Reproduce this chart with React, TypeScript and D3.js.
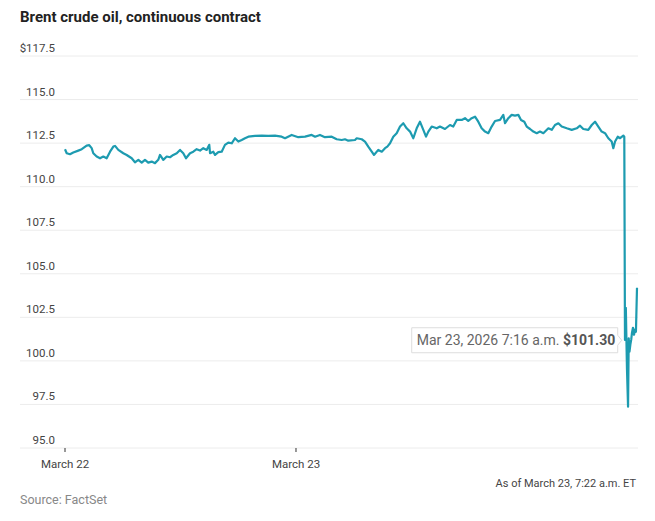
import { line, scaleLinear, curveLinear } from 'd3';

// trading hours since the March 22 open, and Brent front-month price in dollars
const hours = [
  0, 0.18, 0.52, 0.86, 1.38, 1.74, 2.25, 2.52, 2.77, 2.94, 3.29, 3.64, 3.98, 4.33, 4.68, 5.02, 5.2, 5.54,
  6.06, 6.41, 6.93, 7.27, 7.62, 7.97, 8.31, 8.65, 9.01, 9.35, 9.69, 9.87, 10.21, 10.57, 10.91, 11.25, 11.61,
  11.95, 12.29, 12.57, 12.99, 13.33, 13.68, 14.03, 14.37, 14.72, 14.99,
  15.07, 15.41, 15.59, 15.93, 16.28, 16.62, 16.97, 17.32, 17.66, 18.01, 18.36, 18.7, 19.05, 19.74, 20.44,
  21.12, 21.82, 22.51, 22.86, 23.55, 24.24, 24.94, 25.63, 25.98, 26.49, 27.01, 27.71, 28.23, 28.75, 29.09,
  29.43, 30.13,
  30.31, 30.83, 31.17, 31.51, 31.87, 32.1, 32.55, 32.91, 33.25, 33.49, 33.77, 34.11, 34.46, 34.81, 35.15,
  35.5, 35.85, 36.19, 36.54, 36.88, 37.23, 37.51, 37.75, 38.1, 38.62, 38.96, 39.48, 40.0, 40.34, 40.7,
  41.22, 41.56, 41.9, 42.25, 42.6, 42.94, 43.29, 43.64, 43.98, 44.33, 44.68, 45.2,
  45.54, 45.72, 46.06, 46.41, 46.75, 47.1, 47.38, 47.72, 47.97, 48.32, 48.66, 49.01, 49.35, 49.7, 50.22,
  50.57, 50.91, 51.26, 51.61, 52.13, 52.65, 53.17, 53.51, 53.85, 54.37, 54.73, 55.07, 55.41, 55.76, 56.11,
  56.45, 56.8, 56.97, 57.15, 57.43, 57.67, 58.01, 58.11,
  58.18, 58.27, 58.39, 58.5, 58.57, 58.65, 58.74, 58.83, 58.91, 59.01, 59.12, 59.22, 59.32, 59.43,
];

const prices = [
  112.15, 111.92, 111.86, 111.96, 112.07, 112.15, 112.36, 112.38, 112.21, 111.92, 111.73, 111.63, 111.73,
  111.63, 112.01, 112.3, 112.34, 112.11, 111.92, 111.82, 111.63, 111.4, 111.54, 111.38, 111.54, 111.38,
  111.44, 111.35, 111.54, 111.82, 111.54, 111.73, 111.69, 111.82, 111.92, 112.11, 111.92, 111.63, 111.92,
  112.01, 112.15, 112.07, 112.21, 112.11, 112.4,
  111.92, 112.01, 111.82, 111.98, 112.01, 112.4, 112.53, 112.49, 112.78, 112.59, 112.68, 112.78, 112.87,
  112.91, 112.93, 112.91, 112.93, 112.87, 112.78, 112.97, 112.84, 112.87, 112.97, 112.87, 112.97, 112.84,
  112.87, 112.72, 112.68, 112.72, 112.64, 112.68,
  112.78, 112.72, 112.59, 112.3, 112.01, 111.82, 112.11, 112.01, 112.21, 112.3, 112.49, 112.87, 113.07,
  113.45, 113.64, 113.35, 113.16, 112.78, 113.35, 113.73, 113.26, 112.87, 113.16, 113.45, 113.35, 113.45,
  113.31, 113.54, 113.45, 113.83, 113.83, 113.93, 113.77, 113.93, 114.02, 113.73, 113.35, 113.16, 113.07,
  113.45, 113.77, 113.83,
  114.12, 113.64, 113.93, 114.12, 114.08, 114.12, 113.83, 113.73, 113.45, 113.31, 113.16, 113.07, 113.16,
  113.07, 113.35, 113.26, 113.54, 113.64, 113.45, 113.35, 113.26, 113.35, 113.5, 113.31, 113.26, 113.54,
  113.73, 113.45, 113.16, 113.07, 112.78, 112.59, 112.21, 112.59, 112.87, 112.78, 112.93, 112.87,
  101.2, 103.05, 99.5, 97.37, 101.3, 100.53, 100.93, 101.22, 101.62, 101.9, 101.5, 101.79, 101.67, 104.2,
];

const yTicks = [95, 97.5, 100, 102.5, 105, 107.5, 110, 112.5, 115, 117.5];
const xTickHours = [0, 24];
const xTickLabels = ['March 22', 'March 23'];

const tooltipPrice = 101.3; // the 7:16 a.m. print
const tooltipDate = 'Mar 23, 2026 7:16 a.m.';

const W = 655;
const H = 521;
const FONT = 'Roboto, "DejaVu Sans", sans-serif';

export default function App() {
  const x = scaleLinear().domain([0, 59.43]).range([65, 637]);
  const y = scaleLinear().domain([95, 117.5]).range([448, 56]);

  const pts = hours.map((h, i) => ({ h, p: prices[i] }));
  const path = line<{ h: number; p: number }>()
    .x((d) => x(d.h))
    .y((d) => y(d.p))
    .curve(curveLinear)(pts);

  const tip = pts[prices.indexOf(tooltipPrice)];
  const tipX = x(tip.h) - 7;
  const tipY = y(tip.p) + 2;
  const boxW = 206;
  const boxH = 25;

  return (
    <svg
      width={W}
      height={H}
      style={{ position: 'absolute', left: 0, top: 0, background: '#fff' }}
      fontFamily={FONT}
    >
      <text x={20} y={22} fontSize={15} fontWeight={700} fill="#222">
        Brent crude oil, continuous contract
      </text>

      {/* gridlines + y labels */}
      {yTicks.map((t) => (
        <g key={t}>
          <line x1={20} x2={638} y1={y(t)} y2={y(t)} stroke="#ececec" strokeWidth={1} />
          <text x={55} y={y(t) - 4} textAnchor="end" fontSize={11.5} fill="#444">
            {t === 117.5 ? '$' + t.toFixed(1) : t.toFixed(1)}
          </text>
        </g>
      ))}

      {/* x ticks */}
      {xTickHours.map((h, i) => (
        <g key={h}>
          <line x1={x(h)} x2={x(h)} y1={448} y2={452} stroke="#333" strokeWidth={1} />
          <text x={x(h)} y={468} textAnchor="middle" fontSize={11.5} fill="#444">
            {xTickLabels[i]}
          </text>
        </g>
      ))}

      <path d={path ?? ''} fill="none" stroke="#1d9bb0" strokeWidth={2.2} strokeLinejoin="round" />

      {/* hover label */}
      <g>
        <path
          d={`M${tipX - boxW - 4},${tipY - boxH / 2} h${boxW} v${boxH / 2 - 5} l4,5 l-4,5 v${boxH / 2 - 5} h${-boxW} Z`}
          fill="#fff"
          stroke="#ddd"
          strokeWidth={1}
        />
        <text x={tipX - boxW + 1} y={tipY + 5} fontSize={14} fill="#666">
          {tooltipDate}{' '}
          <tspan fontWeight={700} fill="#555">
            ${tip.p.toFixed(2)}
          </tspan>
        </text>
      </g>

      <text x={636} y={487} textAnchor="end" fontSize={11} fill="#444">
        As of March 23, 7:22 a.m. ET
      </text>
      <text x={20} y={504} fontSize={12.5} fill="#888">
        Source: FactSet
      </text>
    </svg>
  );
}
